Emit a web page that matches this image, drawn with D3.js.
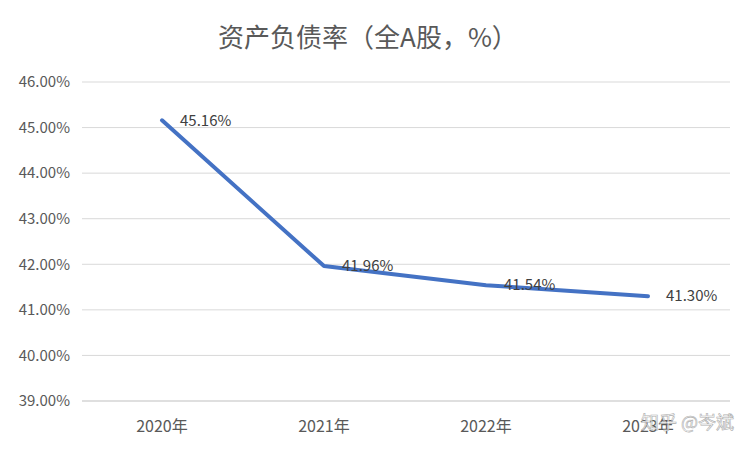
<!DOCTYPE html>
<html><head><meta charset="utf-8">
<script src="https://cdn.jsdelivr.net/npm/d3@7"></script>
<style>body{margin:0;background:#fff}</style>
</head><body>
<svg id="c" width="752" height="452"></svg>
<script>
const categories = ["2020年","2021年","2022年","2023年"];
const values = [45.16, 41.96, 41.54, 41.30];
const yTicks = [39,40,41,42,43,44,45,46];
const title = "资产负债率（全A股，%）";

const svg = d3.select("#c");
const font = "'Noto Sans CJK SC', 'Noto Sans', sans-serif";
svg.append("rect").attr("width",752).attr("height",452).attr("fill","#fff");
const x = d3.scalePoint().domain(categories).range([162,648]);
const y = d3.scaleLinear().domain([39,46]).range([401,82]);

svg.append("g").selectAll("line").data(yTicks.slice(1)).join("line")
  .attr("x1",82).attr("x2",730).attr("y1",d=>y(d)).attr("y2",d=>y(d))
  .attr("stroke","#d9d9d9").attr("stroke-width",1);
svg.append("line").attr("x1",82).attr("x2",730).attr("y1",y(39)).attr("y2",y(39))
  .attr("stroke","#bfbfbf");

svg.append("g").selectAll("text").data(yTicks).join("text")
  .attr("x",70).attr("y",d=>y(d)).attr("dy","0.35em").attr("text-anchor","end")
  .attr("font-family",font).attr("font-size",15).attr("fill","#595959")
  .text(d=>d.toFixed(2)+"%");
svg.append("g").selectAll("text").data(categories).join("text")
  .attr("x",d=>x(d)).attr("y",426).attr("dy","0.35em").attr("text-anchor","middle")
  .attr("font-family",font).attr("font-size",16).attr("fill","#595959").text(d=>d);

const line = d3.line().x((d,i)=>x(categories[i])).y(d=>y(d));
svg.append("path").datum(values).attr("d",line).attr("fill","none")
  .attr("stroke","#4472C4").attr("stroke-width",4).attr("stroke-linejoin","round").attr("stroke-linecap","round");

svg.append("g").selectAll("text").data(values).join("text")
  .attr("x",(d,i)=>x(categories[i])+18).attr("y",d=>y(d)).attr("dy","0.35em")
  .attr("font-family",font).attr("font-size",15).attr("fill","#404040")
  .text(d=>d.toFixed(2)+"%");

svg.append("text").attr("x",368).attr("y",38).attr("dy","0.35em").attr("text-anchor","middle")
  .attr("font-family",font).attr("font-size",26).attr("fill","#595959").text(title);

svg.append("text").attr("x",734).attr("y",423).attr("dy","0.35em").attr("text-anchor","end")
  .attr("font-family",font).attr("font-size",18).attr("fill","#ffffff")
  .attr("stroke","#999").attr("stroke-width",0.6).attr("opacity",0.8).text("知乎 @岑斌");
</script>
</body></html>
